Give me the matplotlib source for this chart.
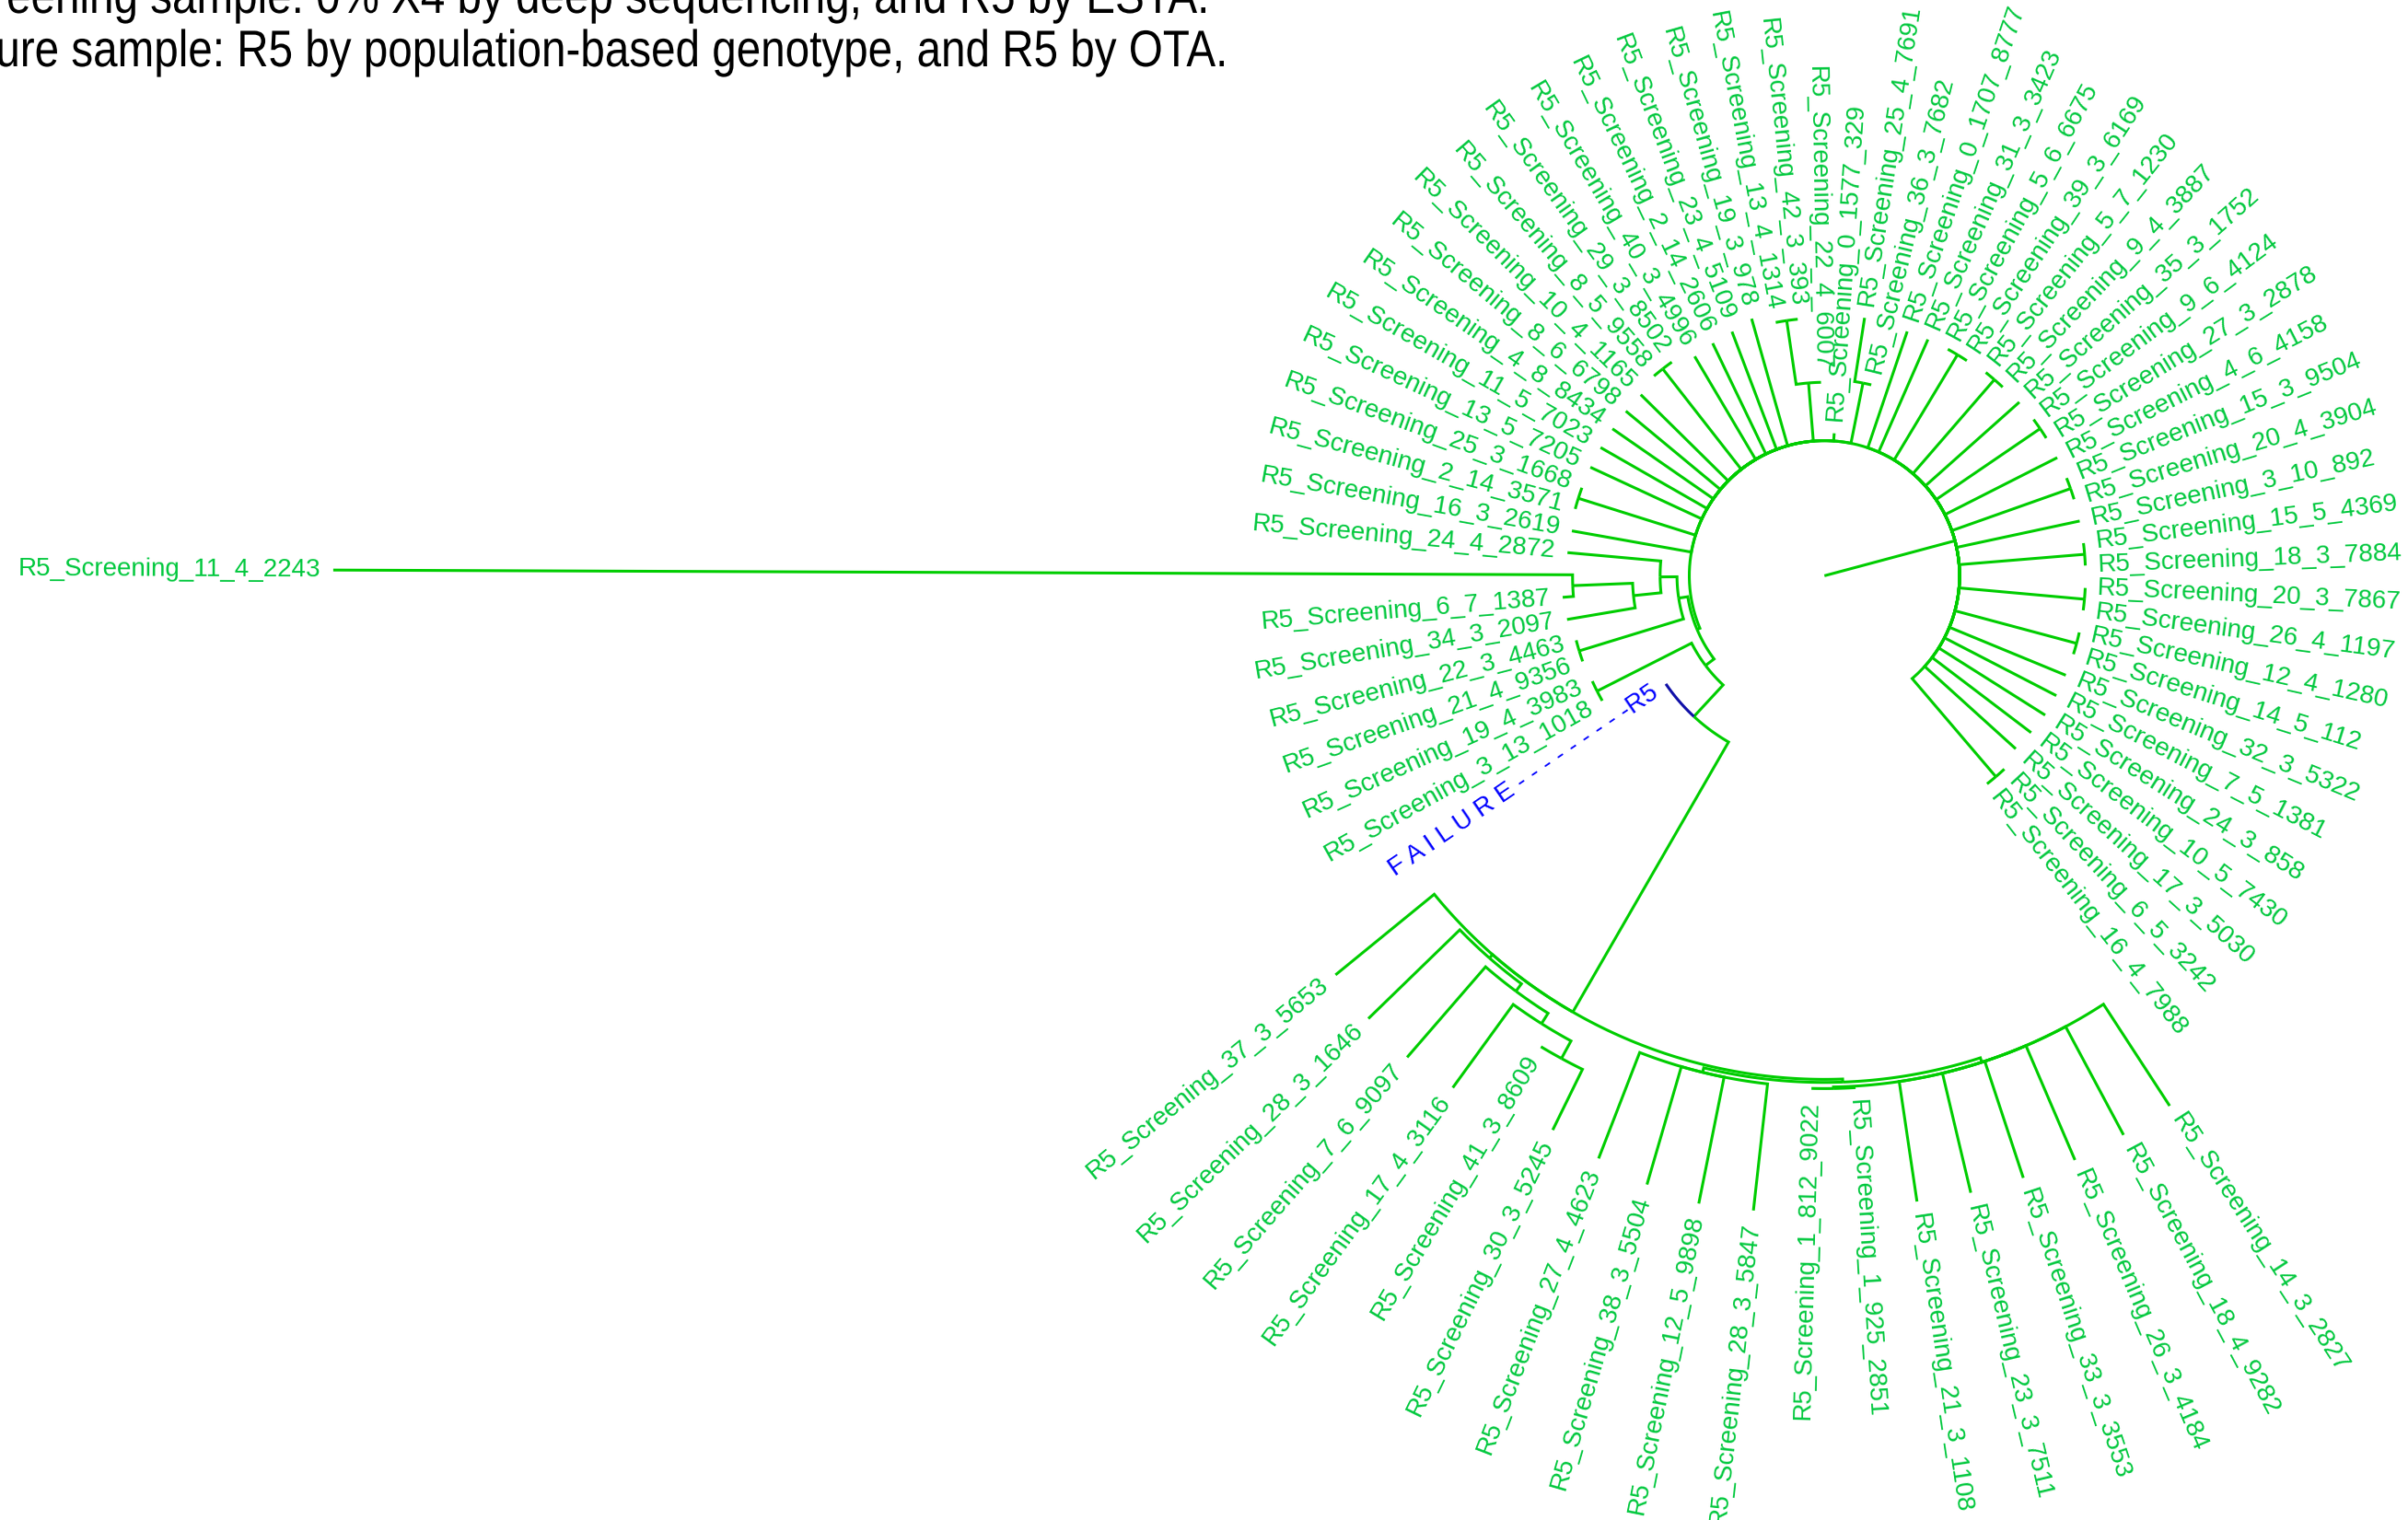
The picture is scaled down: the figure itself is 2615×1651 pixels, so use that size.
import numpy as np
import matplotlib
matplotlib.use('Agg')
from matplotlib import pyplot as plt
from matplotlib.textpath import TextPath
from matplotlib.patches import PathPatch
from matplotlib.font_manager import FontProperties
from matplotlib.transforms import Affine2D

title_lines = ['Screening sample: 0% X4 by deep sequencing, and R5 by ESTA.',
               'Failure sample: R5 by population-based genotype, and R5 by OTA.']

# tips in drawing order, counter-clockwise from the lower right
tip_labels = [
    'R5_Screening_16_4_7988', 'R5_Screening_6_5_3242', 'R5_Screening_17_3_5030',
    'R5_Screening_10_5_7430', 'R5_Screening_24_3_858', 'R5_Screening_7_5_1381',
    'R5_Screening_32_3_5322', 'R5_Screening_14_5_112', 'R5_Screening_12_4_1280',
    'R5_Screening_26_4_1197', 'R5_Screening_20_3_7867', 'R5_Screening_18_3_7884',
    'R5_Screening_15_5_4369', 'R5_Screening_3_10_892', 'R5_Screening_20_4_3904',
    'R5_Screening_15_3_9504', 'R5_Screening_4_6_4158', 'R5_Screening_27_3_2878',
    'R5_Screening_9_6_4124', 'R5_Screening_35_3_1752', 'R5_Screening_9_4_3887',
    'R5_Screening_5_7_1230', 'R5_Screening_39_3_6169', 'R5_Screening_5_6_6675',
    'R5_Screening_31_3_3423', 'R5_Screening_0_1707_8777', 'R5_Screening_36_3_7682',
    'R5_Screening_25_4_7691', 'R5_Screening_0_1577_329', 'R5_Screening_22_4_6007',
    'R5_Screening_42_3_393', 'R5_Screening_13_4_1314', 'R5_Screening_19_3_978',
    'R5_Screening_23_4_5109', 'R5_Screening_2_14_2606', 'R5_Screening_40_3_4996',
    'R5_Screening_29_3_8502', 'R5_Screening_8_5_9558', 'R5_Screening_10_4_1165',
    'R5_Screening_8_6_6798', 'R5_Screening_4_8_8434', 'R5_Screening_11_5_7023',
    'R5_Screening_13_5_7205', 'R5_Screening_25_3_1668', 'R5_Screening_2_14_3571',
    'R5_Screening_16_3_2619', 'R5_Screening_24_4_2872', 'R5_Screening_11_4_2243',
    'R5_Screening_6_7_1387', 'R5_Screening_34_3_2097', 'R5_Screening_22_3_4463',
    'R5_Screening_21_4_9356', 'R5_Screening_19_4_3983', 'R5_Screening_3_13_1018',
    'F A I L U R E - - - - - - - - -R5',
    'R5_Screening_37_3_5653', 'R5_Screening_28_3_1646', 'R5_Screening_7_6_9097',
    'R5_Screening_17_4_3116', 'R5_Screening_41_3_8609', 'R5_Screening_30_3_5245',
    'R5_Screening_27_4_4623', 'R5_Screening_38_3_5504', 'R5_Screening_12_5_9898',
    'R5_Screening_28_3_5847', 'R5_Screening_1_812_9022', 'R5_Screening_1_925_2851',
    'R5_Screening_21_3_1108', 'R5_Screening_23_3_7511', 'R5_Screening_33_3_3553',
    'R5_Screening_26_3_4184', 'R5_Screening_18_4_9282', 'R5_Screening_14_3_2827']

tip_parent = [
    'P0', 'P0', 'A', 'A', 'A', 'A', 'A', 'P7', 'P7', 'P9', 'P9', 'P11', 'P11',
    'A', 'P14', 'P14', 'A', 'P17', 'P17', 'A', 'P20', 'P20', 'P22', 'P22',
    'A', 'A', 'Nt1', 'Nt1', 'B', 'Nt2', 'P30', 'P30', 'B', 'B', 'B', 'B',
    'P36', 'P36', 'B', 'B', 'B', 'B', 'B', 'P43', 'P43', 'B', 'Nb', 'Nd',
    'Nd', 'Nc', 'P50', 'P50', 'P52', 'P52', 'Ng', 'L', 'M1', 'M2', 'M3',
    'M4', 'M4', 'TL', 'TL', 'TL', 'TL', 'P65', 'P65', 'TR', 'TR', 'TR', 'TR',
    'TR', 'TR']

tip_length = [
    0, 0, 0.080, 0.081, 0.082, 0.082, 0.082, 0, 0, 0, 0, 0, 0,
    0.082, 0, 0, 0.082, 0, 0, 0.082, 0, 0, 0, 0,
    0.080, 0.080, 0, 0.042, 0.005, 0, 0, 0, 0.086, 0.082, 0.080, 0.078,
    0, 0, 0.080, 0.080, 0.080, 0.080, 0.080, 0, 0, 0.079, 0.061, 0.807,
    0.007, 0.045, 0, 0, 0, 0, 0, 0.083, 0.083, 0.078, 0.067,
    0, 0.044, 0.074, 0.080, 0.084, 0.083, 0, 0, 0.079, 0.080, 0.080, 0.081,
    0.080, 0.079]

# internal nodes, parents listed before their children
node_names = ['A', 'B', 'P0', 'P7', 'P9', 'P11', 'P14', 'P17', 'P20', 'P22',
              'Nt1', 'Nt2', 'P30', 'P36', 'P43', 'Nx', 'Na', 'Nb', 'Nc', 'Nd',
              'P50', 'Ne', 'P52', 'Ng', 'L', 'M1', 'M2', 'M3', 'M4', 'R', 'TL',
              'TR', 'P65']
node_parent = ['root', 'A', 'A', 'A', 'A', 'A', 'A', 'A', 'A', 'A',
               'B', 'B', 'Nt2', 'B', 'B', 'B', 'Nx', 'Na', 'Nb', 'Nc',
               'Na', 'Nx', 'Ne', 'Ne', 'Ng', 'L', 'M1', 'M2', 'M3', 'L', 'R',
               'R', 'TR']
node_length = [0.088, 0.0, 0.084, 0.082, 0.082, 0.082, 0.082, 0.082, 0.081, 0.080,
               0.040, 0.038, 0.042, 0.083, 0.080, 0.002, 0.006, 0.011, 0.018, 0.039,
               0.071, 0.007, 0.069, 0.028, 0.203, 0.003, 0.006, 0.008, 0.013, 0.002, 0.003,
               0.003, 0.001]

failure_tip = 54

green = '#00CD00'
label_green = '#00C83C'

n_tips = len(tip_labels)
start = -52.0
step = 360.0 / n_tips

depth = {'root': 0.0}
for name, par, ln in zip(node_names, node_parent, node_length):
    depth[name] = depth[par] + ln
tip_depth = [depth[p] + l for p, l in zip(tip_parent, tip_length)]
tip_angle = [start + step * k for k in range(n_tips)]

children = {n: [] for n in ['root'] + node_names}
for k, p in enumerate(tip_parent):
    children[p].append(('tip', k))
for n, p in zip(node_names, node_parent):
    children[p].append(('node', n))

angle = {}


def node_angle(n):
    # ape style: a node sits at the mean angle of its children
    if n not in angle:
        vals = [tip_angle[c] if kind == 'tip' else node_angle(c) for kind, c in children[n]]
        angle[n] = float(np.mean(vals))
    return angle[n]


node_angle('root')


def polar(r, a):
    t = np.radians(a)
    return r * np.cos(t), r * np.sin(t)


fig = plt.figure(figsize=(26.15, 16.51), dpi=100)
ax = fig.add_axes([0, 0, 1, 1])
ax.set_xlim(-1.188, 0.380)
ax.set_ylim(-0.615, 0.375)
ax.axis('off')


def edge(r0, r1, a0, a1, colour):
    # arc along the parent radius, then straight out at the child angle
    arc = np.linspace(a0, a1, max(2, int(abs(a1 - a0) * 3)))
    xs, ys = polar(np.full(arc.shape, r0), arc)
    ex, ey = polar(r1, a1)
    ax.plot(np.append(xs, ex), np.append(ys, ey), color=colour, lw=2.2,
            solid_capstyle='butt', solid_joinstyle='miter')


for name, par in zip(node_names, node_parent):
    edge(depth[par], depth[name], angle[par], angle[name], green)

for k in range(n_tips):
    par = tip_parent[k]
    col = '#1010A8' if k == failure_tip else green
    edge(depth[par], tip_depth[k], angle[par], tip_angle[k], col)

offset = 0.008
for k in range(n_tips):
    a = tip_angle[k]
    x, y = polar(tip_depth[k] + offset, a)
    if np.cos(np.radians(a)) >= 0:
        rot = a if a <= 90 else a - 360
        ha = 'left'
    else:
        rot = a - 180
        ha = 'right'
    col = 'blue' if k == failure_tip else label_green
    ax.text(x, y, tip_labels[k], rotation=rot, rotation_mode='anchor', ha=ha,
            va='center', fontsize=20, color=col, family=['Liberation Sans', 'DejaVu Sans'])


def narrow_title(text, right_px, base_px, size_px, squeeze=0.85):
    # the title font is a narrow sans, so squeeze a regular one sideways
    tp = TextPath((0, 0), text, size=size_px, prop=FontProperties(family='Liberation Sans'))
    width = tp.get_extents().x1
    tr = Affine2D().scale(squeeze, 1).translate(right_px - squeeze * width, 1651 - base_px)
    fig.add_artist(PathPatch(tp, transform=tr, facecolor='black', edgecolor='none'))


narrow_title(title_lines[0], 1309, 14, 56)
narrow_title(title_lines[1], 1329, 72, 56)

fig.savefig('out.png', dpi=100)
